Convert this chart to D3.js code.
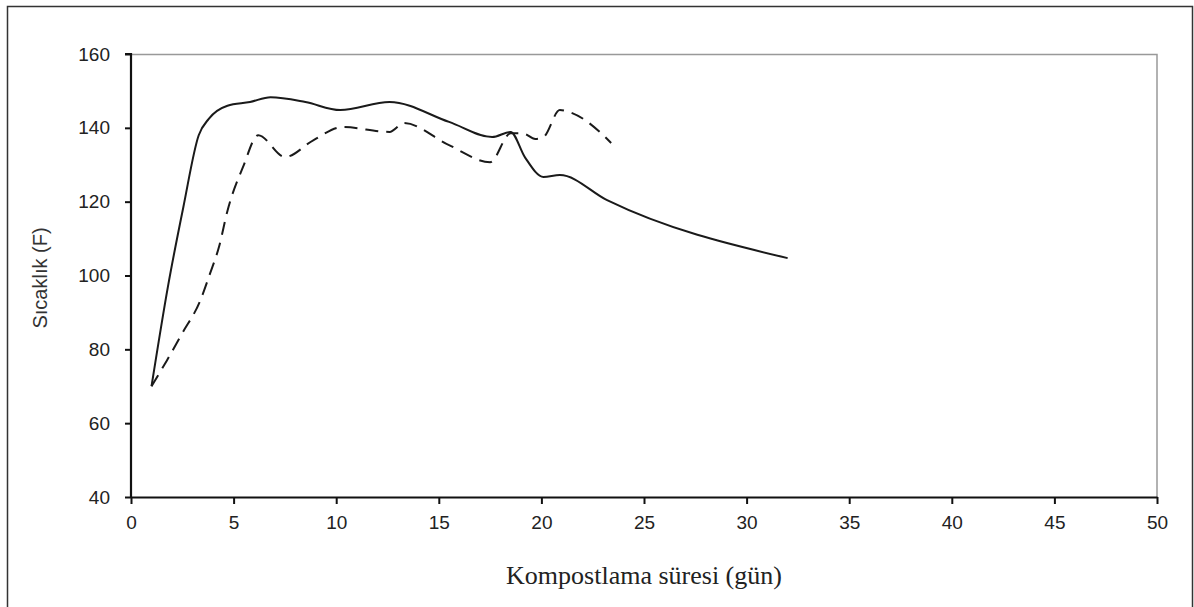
<!DOCTYPE html>
<html>
<head>
<meta charset="utf-8">
<script src="https://cdn.jsdelivr.net/npm/d3@7"></script>
<style>
  body { margin: 0; background: #fff; }
  .tick text { font-family: Arial, "Liberation Sans", sans-serif; font-size: 19px; fill: #222; }
</style>
</head>
<body>
<script>
// Chart data
var xTicks = [0, 5, 10, 15, 20, 25, 30, 35, 40, 45, 50];
var yTicks = [40, 60, 80, 100, 120, 140, 160];

var solidDays = [1, 1.8, 2.55, 3.3, 3.8, 4.7, 5.8, 6.8, 8.5, 10.2, 12.6, 15.5, 17.6, 18.5, 19.2, 20.1, 20.9, 23.2, 32];
var solidTemp = [70, 97, 118.5, 138, 142.5, 146, 147, 148.3, 147, 144.8, 147, 141.6, 137.5, 138.9, 132, 126.7, 127.2, 120.4, 104.7];

var dashDays = [1, 1.75, 2.5, 3.36, 3.85, 4.3, 4.7, 5.46, 6.2, 7.5, 8.9, 10.3, 12.6, 13.3, 15.5, 17.5, 18.5, 19.1, 19.7, 20.1, 20.9, 21.5, 22.9, 23.4];
var dashTemp = [70, 77, 84.4, 93, 100.5, 108, 117.5, 129.4, 138, 132.1, 136.7, 140.2, 138.9, 141.3, 135.3, 130.7, 138.5, 138.5, 137, 137.5, 144.8, 144, 138.6, 135.9];

// Chart Params
var svgWidth = 1194;
var svgHeight = 607;
var margin = { top: 54, right: 37, bottom: 110, left: 131 };
var width = svgWidth - margin.left - margin.right;
var height = svgHeight - margin.top - margin.bottom;

var svg = d3.select("body")
  .append("svg")
  .attr("width", svgWidth)
  .attr("height", svgHeight);

// outer frame
svg.append("rect")
  .attr("x", 7.5).attr("y", 6.5)
  .attr("width", 1185).attr("height", 700)
  .attr("fill", "none")
  .attr("stroke", "#333")
  .attr("stroke-width", 1.5);

var chartGroup = svg.append("g")
  .attr("transform", `translate(${margin.left}, ${margin.top})`);

var x = d3.scaleLinear().domain([0, 50]).range([0, width]);
var y = d3.scaleLinear().domain([40, 160]).range([height, 0]);

// plot frame top + right (grey)
chartGroup.append("path")
  .attr("d", `M0,0.5H${width}V${height}`)
  .attr("fill", "none")
  .attr("stroke", "#999")
  .attr("stroke-width", 1.5);

var bottomAxis = d3.axisBottom(x).tickValues(xTicks).tickSize(7).tickSizeOuter(0).tickPadding(12);
var leftAxis = d3.axisLeft(y).tickValues(yTicks).tickSize(6).tickSizeOuter(0).tickPadding(15);

var gx = chartGroup.append("g")
  .attr("transform", `translate(0, ${height})`)
  .call(bottomAxis);
var gy = chartGroup.append("g").call(leftAxis);

[gx, gy].forEach(function(g) {
  g.select(".domain").attr("stroke", "#111").attr("stroke-width", 2.2);
  g.selectAll(".tick line").attr("stroke", "#111").attr("stroke-width", 2);
});
gy.select(".domain").attr("d", `M0,${height}V0H-6`);

// lines
var line = d3.line()
  .x(d => x(d[0]))
  .y(d => y(d[1]))
  .curve(d3.curveMonotoneX);

var solidData = d3.zip(solidDays, solidTemp);
var dashData = d3.zip(dashDays, dashTemp);

chartGroup.append("path")
  .datum(dashData)
  .attr("d", line)
  .attr("fill", "none")
  .attr("stroke", "#1a1a1a")
  .attr("stroke-width", 2)
  .attr("stroke-dasharray", "13,8");

chartGroup.append("path")
  .datum(solidData)
  .attr("d", line)
  .attr("fill", "none")
  .attr("stroke", "#1a1a1a")
  .attr("stroke-width", 2);

// axis titles
svg.append("text")
  .attr("transform", "translate(47, 278) rotate(-90)")
  .attr("text-anchor", "middle")
  .style("font-family", "Arial, 'Liberation Sans', sans-serif")
  .style("font-size", "20px")
  .style("fill", "#333")
  .text("Sıcaklık (F)");

svg.append("text")
  .attr("x", 644)
  .attr("y", 584)
  .attr("text-anchor", "middle")
  .style("font-family", "'Times New Roman', 'Liberation Serif', serif")
  .style("font-size", "26px")
  .style("fill", "#222")
  .text("Kompostlama süresi (gün)");
</script>
</body>
</html>
